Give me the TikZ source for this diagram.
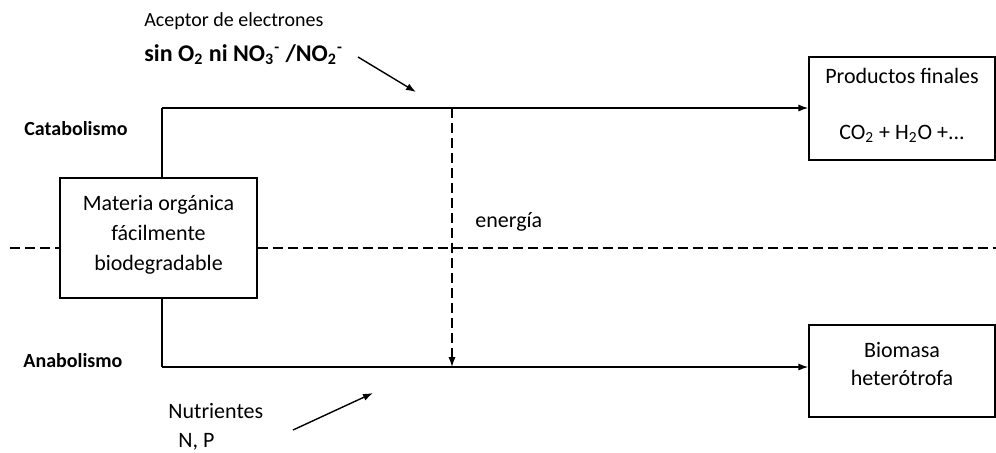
\documentclass[tikz,border=0pt]{standalone}
\usepackage{fontspec}
\setmainfont{Carlito}
\usetikzlibrary{arrows.meta}

\begin{document}
\begin{tikzpicture}[x=0.5pt,y=-0.5pt,>={Latex[length=5pt,width=3.6pt]},
  caja/.style={draw,line width=0.7pt,align=center,inner sep=0pt,font=\fontsize{11}{15}\selectfont},
  linea/.style={line width=0.7pt},
  trazos/.style={line width=0.7pt,dash pattern=on 5pt off 2.5pt},
  etiq/.style={anchor=base west,inner sep=0pt,font=\fontsize{11}{14}\selectfont},
  fase/.style={anchor=base west,inner sep=0pt,font=\fontsize{10}{12}\selectfont\bfseries}]
\useasboundingbox (0,0) rectangle (996,452);
% cajas
\node[caja,minimum width=98.5pt,minimum height=60pt,text depth=5pt] (mat) at (158.5,238) {Materia orgánica\\fácilmente\\biodegradable};
\node[caja,minimum width=93pt,minimum height=51.5pt,text depth=5pt] (prod) at (902,108.5) {Productos finales\\[13pt]CO\textsubscript{2} + H\textsubscript{2}O +...};
\node[caja,minimum width=93pt,minimum height=46pt,text depth=7pt,font=\fontsize{11}{14}\selectfont] (bio) at (902,371) {Biomasa\\heterótrofa};
% textos
\node[fase] (cata) at (24,135) {Catabolismo};
\node[fase] (anab) at (23,367) {Anabolismo};
\node[etiq,font=\fontsize{10}{12}\selectfont] (acep) at (144,26) {Aceptor de electrones};
\node[etiq,font=\fontsize{12}{14}\selectfont\bfseries] (sino) at (144,61) {sin O\textsubscript{2} ni NO\textsubscript{3}\textsuperscript{-} /NO\textsubscript{2}\textsuperscript{-}};
\node[etiq] (ener) at (475,227) {energía};
\node[etiq] (nutr) at (168,418) {Nutrientes};
\node[etiq] (np) at (178,447) {N, P};
% lineas
\coordinate (cat) at (162,108); \coordinate (ana) at (162,367); \coordinate (en) at (452,108);
\draw[linea] (cat |- mat.north) -- (cat);
\draw[linea,->] (cat) -- (cat -| prod.west);
\draw[linea] (ana |- mat.south) -- (ana);
\draw[linea,->] (ana) -- (ana -| bio.west);
\draw[trazos,->] (en) -- (en |- ana);
\coordinate (div) at (10,248); \coordinate (divr) at (996,248);
\draw[trazos] (div) -- (div -| mat.west);
\draw[trazos] (mat.east |- div) -- (divr);
% flechas sueltas
\coordinate (a1) at (358,57); \coordinate (a2) at (416,92);
\coordinate (n1) at (293,430); \coordinate (n2) at (373,393);
\draw[linea,->] (a1) -- (a2);
\draw[linea,->] (n1) -- (n2);
\end{tikzpicture}
\end{document}
